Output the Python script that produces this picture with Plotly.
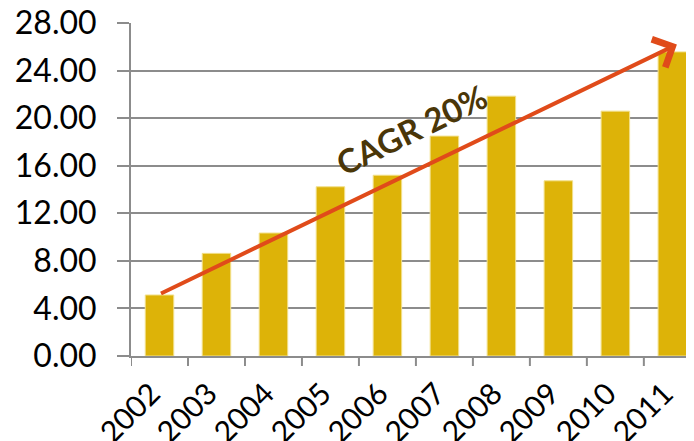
import plotly.graph_objects as go

years = ["2002", "2003", "2004", "2005", "2006", "2007", "2008", "2009", "2010", "2011"]
values = [5.13, 8.63, 10.34, 14.23, 15.20, 18.49, 21.85, 14.73, 20.59, 25.57]
y_ticks = [0, 4, 8, 12, 16, 20, 24, 28]

label = "CAGR 20%"
arrow_start = (0, 5.2)
arrow_end = (9.08, 26.2)
label_pos = (4.43, 19.1)

fig = go.Figure(go.Bar(
    x=list(range(len(years))),
    y=values,
    width=0.5,
    marker=dict(color="#DDB308", line=dict(color="#F2E08A", width=1)),
))

fig.add_annotation(
    x=arrow_end[0], y=arrow_end[1], ax=arrow_start[0], ay=arrow_start[1],
    xref="x", yref="y", axref="x", ayref="y",
    showarrow=True, arrowhead=4, arrowsize=1.5, arrowwidth=4,
    arrowcolor="#E04B1A", text="",
)
fig.add_annotation(
    x=label_pos[0], y=label_pos[1], xref="x", yref="y",
    text="<b>" + label + "</b>", showarrow=False, textangle=-26,
    font=dict(family="Lato", size=33, color="#4A3608"),
)

# the page body adds an 8px offset, so the margins are shifted to compensate
fig.update_layout(
    width=694, height=441,
    margin=dict(l=123, r=8, t=15, b=93),
    plot_bgcolor="white", paper_bgcolor="white",
    showlegend=False,
    font=dict(family="Lato", size=32, color="black"),
)
fig.update_xaxes(
    type="linear", range=[-0.5, 9.38], automargin=False,
    tickmode="array", tickvals=list(range(len(years))), ticktext=years,
    tickangle=-45, ticks="", showgrid=False, tickfont=dict(size=30),
    showline=True, linecolor="#8C8C8C", linewidth=2,
    ticklabelshift=-8, ticklabelstandoff=6, ticklabeloverflow="allow",
)
fig.update_yaxes(
    range=[0, 28], automargin=False,
    tickmode="array", tickvals=y_ticks, tickformat=".2f",
    ticks="outside", ticklen=12, tickcolor="#8C8C8C", tickwidth=2,
    showgrid=True, gridcolor="#8C8C8C", gridwidth=2,
    showline=True, linecolor="#8C8C8C", linewidth=2,
    ticklabelstandoff=14, zeroline=False, ticklabeloverflow="allow",
)
# boundary ticks along the x axis
for i in range(len(years) + 1):
    fig.add_shape(type="line", xref="x", yref="paper",
                  x0=i - 0.5, x1=i - 0.5, y0=0, y1=-0.03,
                  line=dict(color="#8C8C8C", width=2))

fig.write_html("out.html")
